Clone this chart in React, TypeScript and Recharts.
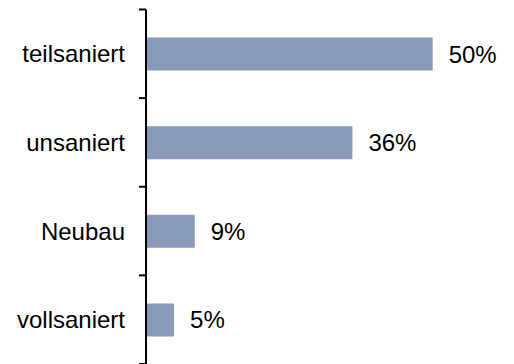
import { BarChart, Bar, XAxis, YAxis, LabelList } from "recharts";

// building condition shares, in percent
const categories = ["teilsaniert", "unsaniert", "Neubau", "vollsaniert"];
const shares = [50, 36, 8.5, 4.9];

const data = categories.map((name, i) => ({ name, share: shares[i] }));

const font = "'Liberation Sans', Arial, sans-serif";
const labelGap = 21;
const markLen = 7;

// category label plus tick marks on the band boundaries (Excel style)
function CategoryTick(props: any) {
  const { x, y, payload, index } = props;
  const half = payload.offset ?? 0;
  const axisX = x + labelGap;
  const last = index === categories.length - 1;
  return (
    <g>
      <line x1={axisX - markLen} x2={axisX} y1={y - half} y2={y - half} stroke="#000" strokeWidth={2} />
      {last && (
        <line x1={axisX - markLen} x2={axisX} y1={y + half} y2={y + half} stroke="#000" strokeWidth={2} />
      )}
      <text
        x={x}
        y={y}
        dy="0.355em"
        textAnchor="end"
        fill="#000"
        fontSize={24}
        fontFamily={font}
      >
        {payload.value}
      </text>
    </g>
  );
}

export default function App() {
  return (
    <BarChart
      width={506}
      height={356}
      data={data}
      layout="vertical"
      margin={{ top: 1.5, right: 24, bottom: 0, left: 0 }}
      barSize={33}
    >
      <XAxis type="number" domain={[0, 60]} hide />
      <YAxis
        type="category"
        dataKey="name"
        width={138}
        axisLine={{ stroke: "#000", strokeWidth: 2 }}
        tickLine={false}
        tickSize={0}
        tickMargin={labelGap}
        tick={<CategoryTick />}
      />
      <Bar dataKey="share" fill="#8999B9" isAnimationActive={false}>
        <LabelList
          dataKey="share"
          position="right"
          offset={16}
          formatter={(v: number) => `${Math.round(v)}%`}
          style={{ fill: "#000", fontSize: 24, fontFamily: font }}
        />
      </Bar>
    </BarChart>
  );
}
